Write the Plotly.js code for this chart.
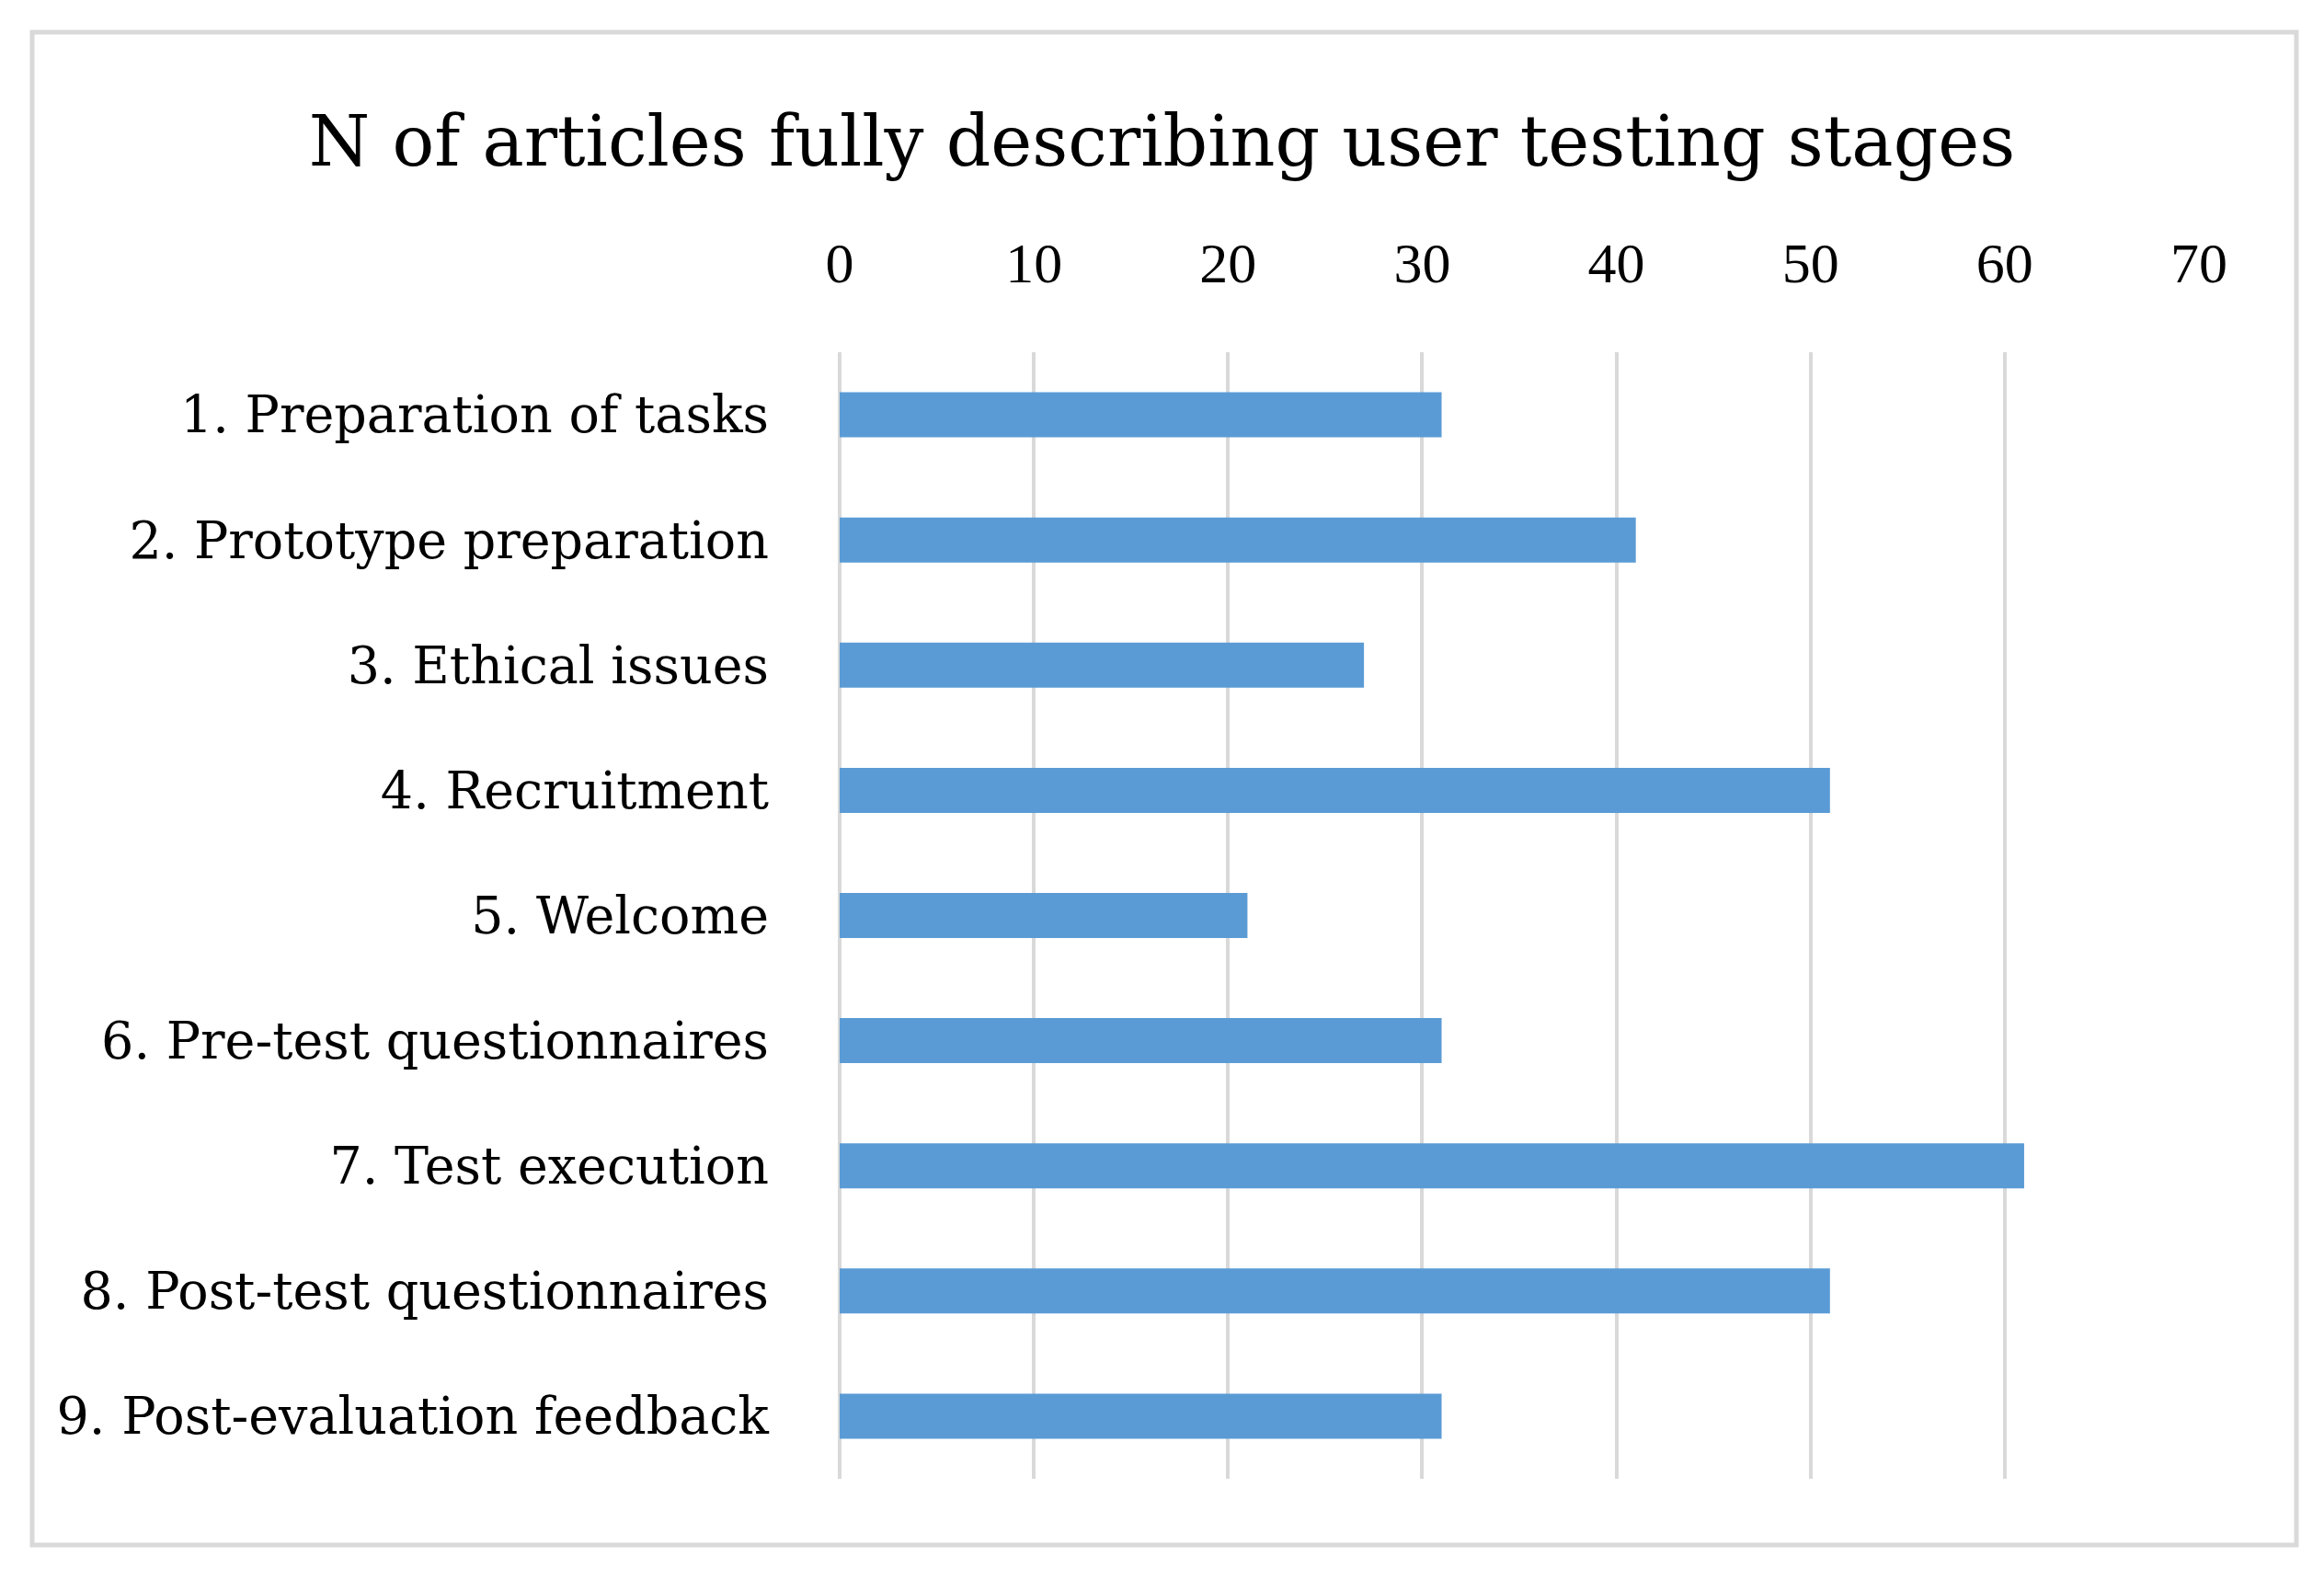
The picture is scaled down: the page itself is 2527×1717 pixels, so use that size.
<!DOCTYPE html>
<html>
<head>
<meta charset="utf-8">
<script src="https://cdn.plot.ly/plotly-3.0.1.min.js"></script>
<style>
  html, body { margin: 0; padding: 0; background: #ffffff; }
  #chart { width: 2527px; height: 1717px; }
</style>
</head>
<body>
<div id="chart"></div>
<script>
const categories = [
  "1. Preparation of tasks",
  "2. Prototype preparation",
  "3. Ethical issues",
  "4. Recruitment",
  "5. Welcome",
  "6. Pre-test questionnaires",
  "7. Test execution",
  "8. Post-test questionnaires",
  "9. Post-evaluation feedback"
];
const articleCounts = [31, 41, 27, 51, 21, 31, 61, 51, 31];
const xTickValues = [0, 10, 20, 30, 40, 50, 60, 70];
const chartTitle = "N of articles fully describing user testing stages";

const LABEL_FONT = "'DejaVu Serif', 'Liberation Serif', serif";
const TICK_FONT = "'Liberation Serif', 'DejaVu Serif', serif";

const trace = {
  type: "bar",
  orientation: "h",
  x: articleCounts,
  y: categories,
  marker: { color: "#5b9bd5", line: { width: 0 } },
  hoverinfo: "x+y"
};

const W = 2527, H = 1717;
const L = 913, R = 2391, T = 383, B = 1608;
const pw = R - L, ph = B - T;
function px2paperX(px) { return (px - L) / pw; }
function px2paperY(py) { return (B - py) / ph; }

const layout = {
  width: W,
  height: H,
  paper_bgcolor: "#ffffff",
  plot_bgcolor: "#ffffff",
  margin: { l: L, r: W - R, t: T, b: H - B, pad: 0 },
  showlegend: false,
  bargap: 0.64,
  title: {
    text: chartTitle,
    font: { family: LABEL_FONT, size: 76, color: "#000000" },
    x: 0.5, xref: "container", xanchor: "center",
    y: 1 - 153 / H, yref: "container", yanchor: "middle"
  },
  xaxis: {
    side: "top",
    range: [0, 70],
    tickvals: xTickValues,
    ticktext: xTickValues.map(String),
    showgrid: true,
    gridcolor: "#d9d9d9",
    gridwidth: 4,
    zeroline: true,
    zerolinecolor: "#d9d9d9",
    zerolinewidth: 4,
    showline: false,
    ticks: "",
    ticklabelstandoff: 63,
    tickfont: { family: TICK_FONT, size: 62, color: "#000000" },
    fixedrange: true
  },
  yaxis: {
    autorange: "reversed",
    type: "category",
    showgrid: false,
    zeroline: false,
    showline: false,
    ticks: "",
    ticklabelstandoff: 76,
    tickfont: { family: LABEL_FONT, size: 55.5, color: "#000000" },
    fixedrange: true
  },
  shapes: [
    {
      type: "rect", xref: "paper", yref: "paper",
      x0: px2paperX(35), x1: px2paperX(2497),
      y0: px2paperY(1680), y1: px2paperY(35),
      line: { color: "#d9d9d9", width: 5 },
      fillcolor: "rgba(0,0,0,0)",
      layer: "below"
    }
  ]
};

Plotly.newPlot("chart", [trace], layout, { displayModeBar: false, staticPlot: true });
</script>
</body>
</html>
